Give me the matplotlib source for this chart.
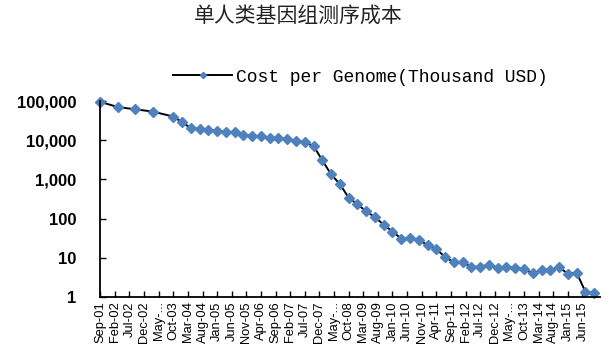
import numpy as np
import matplotlib
matplotlib.use('Agg')
import matplotlib.pyplot as plt

# dates as (year, month), cost per genome in thousand USD
dates = [(2001, 9), (2002, 3), (2002, 9), (2003, 3), (2003, 10),
         (2004, 1), (2004, 4), (2004, 7), (2004, 10),
         (2005, 1), (2005, 4), (2005, 7), (2005, 10),
         (2006, 1), (2006, 4), (2006, 7), (2006, 10),
         (2007, 1), (2007, 4), (2007, 7), (2007, 10),
         (2008, 1), (2008, 4), (2008, 7), (2008, 10),
         (2009, 1), (2009, 4), (2009, 7), (2009, 10),
         (2010, 1), (2010, 4), (2010, 7), (2010, 10),
         (2011, 1), (2011, 4), (2011, 7), (2011, 10),
         (2012, 1), (2012, 4), (2012, 7), (2012, 10),
         (2013, 1), (2013, 4), (2013, 7), (2013, 10),
         (2014, 1), (2014, 4), (2014, 7), (2014, 10),
         (2015, 1), (2015, 4), (2015, 7), (2015, 10)]
cost = [95263, 70175, 61448, 53751, 40153,
        28780, 20442, 19305, 18520,
        17347, 15763, 16181, 13801,
        12952, 12585, 11735, 11354,
        10474, 9408, 8928, 7147,
        3063, 1352, 759, 343,
        232, 154, 109, 70,
        46.8, 31.1, 31.5, 29.1,
        20.96, 16.7, 10.5, 7.74,
        7.67, 5.90, 5.99, 6.62,
        5.67, 5.83, 5.55, 5.10,
        4.01, 4.92, 4.91, 5.73,
        3.97, 4.21, 1.363, 1.245]

tick_labels = ['Sep-01', 'Feb-02', 'Jul-02', 'Dec-02', 'May-...', 'Oct-03',
               'Mar-04', 'Aug-04', 'Jan-05', 'Jun-05', 'Nov-05', 'Apr-06',
               'Sep-06', 'Feb-07', 'Jul-07', 'Dec-07', 'May-...', 'Oct-08',
               'Mar-09', 'Aug-09', 'Jan-10', 'Jun-10', 'Nov-10', 'Apr-11',
               'Sep-11', 'Feb-12', 'Jul-12', 'Dec-12', 'May-...', 'Oct-13',
               'Mar-14', 'Aug-14', 'Jan-15', 'Jun-15']

# months since Sep-01
x = np.array([(y - 2001) * 12 + (m - 9) for y, m in dates])
tick_pos = np.arange(len(tick_labels)) * 5

fig = plt.figure(figsize=(6.11, 3.52), dpi=100)
ax = fig.add_axes([0.164, 0.156, 0.818, 0.557])

line, = ax.plot(x, cost, color='black', lw=1.4, marker='D', ms=5.3,
                mfc='#4F81BD', mec='#4F81BD', clip_on=False)
ax.set_yscale('log')
ax.set_ylim(1, 100000)
ax.set_xlim(0, 171)
ax.set_yticks([1, 10, 100, 1000, 10000, 100000])
ax.set_yticklabels(['1', '10', '100', '1,000', '10,000', '100,000'],
                   fontsize=12, fontweight='bold', family='Liberation Sans')
ax.minorticks_off()
ax.set_xticks(tick_pos)
ax.set_xticklabels(tick_labels, rotation=90, fontsize=9.3, family='Liberation Sans')
ax.tick_params(axis='both', direction='in', length=4, width=1, color='black')
ax.tick_params(axis='y', pad=17)
ax.tick_params(axis='x', pad=3)
for s in ['top', 'right']:
    ax.spines[s].set_visible(False)
for s in ['left', 'bottom']:
    ax.spines[s].set_linewidth(1.3)

fig.text(0.488, 0.955, '单人类基因组测序成本', ha='center', va='center',
         fontsize=15, family=['Noto Sans CJK SC', 'DejaVu Sans'], fontweight='light',
         color='#222222')

leg = ax.legend([line], ['Cost per Genome(Thousand USD)'], loc='center left',
                bbox_to_anchor=(0.283, 0.781), bbox_transform=fig.transFigure,
                frameon=False, borderpad=0, borderaxespad=0, handlelength=3.3,
                handletextpad=0.2, markerscale=0.6,
                prop={'family': 'Liberation Mono', 'size': 13})

fig.savefig('out.png', dpi=100)
